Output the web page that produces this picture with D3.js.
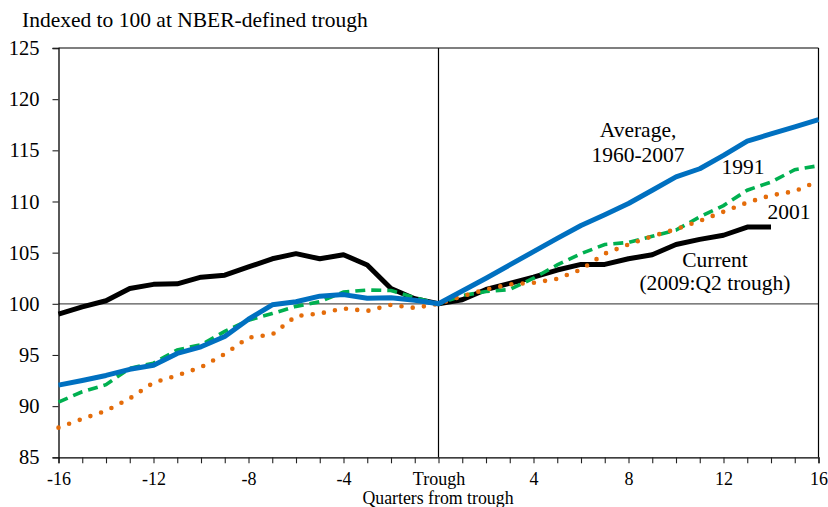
<!DOCTYPE html>
<html><head><meta charset="utf-8">
<script src="https://cdn.jsdelivr.net/npm/d3@7"></script>
<style>
body{margin:0;background:#fff;}
svg{display:block;font-family:"Liberation Serif","Times New Roman",serif;}
</style></head>
<body><svg id="c" width="828" height="507"></svg>
<script>
const quarters = [-16,-15,-14,-13,-12,-11,-10,-9,-8,-7,-6,-5,-4,-3,-2,-1,0,1,2,3,4,5,6,7,8,9,10,11,12,13,14,15,16];
const currentVals = [99.0,99.7,100.3,101.5,101.9,101.95,102.6,102.8,103.6,104.4,104.9,104.4,104.8,103.8,101.5,100.5,100.0,100.4,101.4,102.0,102.6,103.3,103.85,103.85,104.4,104.8,105.8,106.3,106.7,107.5,107.5];
const averageVals = [92.05,92.5,93.0,93.6,94.0,95.15,95.8,96.8,98.5,99.9,100.2,100.75,100.9,100.55,100.6,100.35,100.0,101.25,102.5,103.8,105.1,106.4,107.65,108.7,109.8,111.1,112.4,113.2,114.5,115.9,116.6,117.3,118.0];
const vals1991 = [90.4,91.4,92.1,93.7,94.2,95.5,96.0,97.3,98.4,99.05,99.75,100.2,101.15,101.35,101.3,100.6,100.0,100.8,101.2,101.4,102.5,103.8,104.9,105.8,106.0,106.6,107.2,108.5,109.6,111.1,111.9,113.1,113.5];
const vals2001 = [87.9,88.75,89.55,90.75,92.3,93.0,93.8,95.1,96.7,97.0,98.8,99.05,99.55,99.3,99.9,99.6,100.0,100.75,101.4,101.9,102.05,102.45,103.35,104.9,105.8,106.6,107.3,108.1,109.0,109.9,110.6,111.0,112.0];
const yTicks = [85,90,95,100,105,110,115,120,125];
const xLabelTicks = [-16,-12,-8,-4,0,4,8,12,16];
const xLabelText = ["-16","-12","-8","-4","Trough","4","8","12","16"];

const svg = d3.select("#c");
const L=58.5, R=818.5, T=48, B=457.3;
const x = d3.scaleLinear().domain([-16,16]).range([L,R]);
const y = d3.scaleLinear().domain([85,125]).range([B,T]);

// reference lines
svg.append("line").attr("x1",L).attr("x2",R).attr("y1",y(100)).attr("y2",y(100))
  .attr("stroke","#555").attr("stroke-width",1.2);
svg.append("line").attr("x1",x(0)).attr("x2",x(0)).attr("y1",T).attr("y2",B)
  .attr("stroke","#000").attr("stroke-width",1.2);
// top & right border
svg.append("line").attr("x1",L).attr("x2",R).attr("y1",T).attr("y2",T).attr("stroke","#000").attr("stroke-width",1.2);
svg.append("line").attr("x1",R).attr("x2",R).attr("y1",T).attr("y2",B).attr("stroke","#000").attr("stroke-width",1.2);

// axes
const yAxis = svg.append("g").attr("transform",`translate(${L},0)`)
  .call(d3.axisLeft(y).tickValues(yTicks).tickSize(6).tickPadding(13).tickFormat(d3.format("d")));
yAxis.selectAll("text").attr("font-size","20.5px").attr("fill","#000").attr("font-family","Liberation Serif");
const xAxis = svg.append("g").attr("transform",`translate(0,${B})`)
  .call(d3.axisBottom(x).tickValues(quarters).tickSize(6).tickPadding(9)
    .tickFormat(d => { const i = xLabelTicks.indexOf(d); return i>=0 ? xLabelText[i] : ""; }));
xAxis.selectAll("text").attr("font-size","18px").attr("fill","#000").attr("font-family","Liberation Serif");
[yAxis,xAxis].forEach(a=>{
  a.select(".domain").attr("stroke","#000").attr("stroke-width",1.3);
  a.selectAll(".tick line").attr("stroke","#222").attr("stroke-width",1.1);
});

// series
function mk(vals){ return vals.map((v,i)=>({q:quarters[i], v})); }
const line = d3.line().x(d=>x(d.q)).y(d=>y(d.v));
svg.append("path").datum(mk(currentVals)).attr("d",line).attr("fill","none")
  .attr("stroke","#000").attr("stroke-width",5).attr("stroke-linejoin","round");
svg.append("path").datum(mk(vals1991)).attr("d",line).attr("fill","none")
  .attr("stroke","#00B050").attr("stroke-width",3.6).attr("stroke-dasharray","10 6");
svg.append("path").datum(mk(vals2001)).attr("d",line).attr("fill","none")
  .attr("stroke","#E46C0A").attr("stroke-width",4.6).attr("stroke-linecap","round").attr("stroke-dasharray","0 11.3");
svg.append("path").datum(mk(averageVals)).attr("d",line).attr("fill","none")
  .attr("stroke","#0070C0").attr("stroke-width",5).attr("stroke-linejoin","round");

// texts
const txt = (s,xx,yy,size,anchor)=>svg.append("text").attr("x",xx).attr("y",yy).attr("font-size",size)
  .attr("text-anchor",anchor||"middle").attr("fill","#000").text(s);
txt("Indexed to 100 at NBER-defined trough",22,27,"21.5px","start");
txt("Quarters from trough",438,504,"17.8px");
txt("Average,",638,137,"21.5px");
txt("1960-2007",638,162,"21.5px");
txt("1991",743,174,"21.5px");
txt("2001",789,219,"21.5px");
txt("Current",715,267,"21.5px");
txt("(2009:Q2 trough)",715,290,"21.5px");
</script></body></html>
